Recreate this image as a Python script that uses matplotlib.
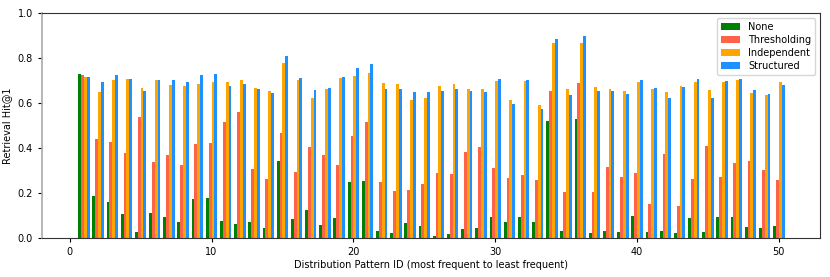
import numpy as np
import matplotlib
matplotlib.use("Agg")
import matplotlib.pyplot as plt

pattern_ids = list(range(1, 51))

hit_none = [0.730, 0.188, 0.161, 0.109, 0.029, 0.114, 0.095, 0.072, 0.176, 0.178,
            0.077, 0.065, 0.072, 0.047, 0.345, 0.087, 0.124, 0.059, 0.089, 0.250,
            0.256, 0.034, 0.025, 0.067, 0.056, 0.010, 0.019, 0.040, 0.046, 0.093,
            0.072, 0.095, 0.071, 0.521, 0.032, 0.529, 0.025, 0.034, 0.027, 0.098,
            0.029, 0.031, 0.022, 0.089, 0.028, 0.096, 0.095, 0.049, 0.046, 0.053]
hit_thresh = [0.724, 0.443, 0.429, 0.379, 0.540, 0.339, 0.372, 0.324, 0.419, 0.422,
              0.517, 0.561, 0.308, 0.264, 0.469, 0.293, 0.407, 0.372, 0.324, 0.455,
              0.517, 0.250, 0.209, 0.216, 0.243, 0.290, 0.286, 0.382, 0.406, 0.314,
              0.269, 0.281, 0.258, 0.653, 0.204, 0.692, 0.204, 0.317, 0.271, 0.290,
              0.151, 0.375, 0.145, 0.264, 0.409, 0.272, 0.335, 0.344, 0.304, 0.258]
hit_indep = [0.718, 0.652, 0.704, 0.709, 0.668, 0.702, 0.680, 0.675, 0.687, 0.693,
             0.693, 0.704, 0.668, 0.653, 0.780, 0.704, 0.624, 0.662, 0.714, 0.721,
             0.733, 0.690, 0.687, 0.616, 0.624, 0.678, 0.687, 0.664, 0.664, 0.699,
             0.613, 0.698, 0.594, 0.868, 0.662, 0.868, 0.671, 0.664, 0.653, 0.696,
             0.665, 0.652, 0.675, 0.696, 0.658, 0.695, 0.704, 0.646, 0.636, 0.693]
hit_struct = [0.716, 0.693, 0.727, 0.709, 0.656, 0.702, 0.702, 0.695, 0.724, 0.732,
              0.677, 0.687, 0.664, 0.647, 0.809, 0.712, 0.659, 0.668, 0.718, 0.757,
              0.775, 0.665, 0.664, 0.649, 0.652, 0.655, 0.664, 0.653, 0.650, 0.708,
              0.598, 0.705, 0.576, 0.887, 0.638, 0.899, 0.653, 0.655, 0.643, 0.704,
              0.666, 0.624, 0.672, 0.709, 0.625, 0.699, 0.709, 0.658, 0.643, 0.682]

series = [("None", hit_none, "green"),
          ("Thresholding", hit_thresh, "tomato"),
          ("Independent", hit_indep, "orange"),
          ("Structured", hit_struct, "dodgerblue")]

fig = plt.figure(figsize=(8.3, 2.77), dpi=100)
ax = fig.add_axes([42 / 830, 1 - 238.3 / 277, (820 - 42) / 830, (238.3 - 13.3) / 277])

x = np.array(pattern_ids)
w = 0.2
for k, (name, vals, col) in enumerate(series):
    ax.bar(x + (k - 1.5) * w, vals, width=w, color=col, label=name)

ax.set_xlim(-1.95, 52.9)
ax.set_ylim(0, 1.0)
ax.set_xticks([0, 10, 20, 30, 40, 50])
ax.set_yticks([0.0, 0.2, 0.4, 0.6, 0.8, 1.0])
ax.tick_params(labelsize=7, length=3, width=0.8)
ax.set_xlabel("Distribution Pattern ID (most frequent to least frequent)", fontsize=7, labelpad=2)
ax.set_ylabel("Retrieval Hit@1", fontsize=7)
ax.spines["left"].set_color("#aaaaaa")
ax.spines["left"].set_linewidth(1.2)
for s in ["top", "right", "bottom"]:
    ax.spines[s].set_color("#333333")

ax.legend(loc="upper right", fontsize=7, handlelength=2.0, borderpad=0.4, labelspacing=0.3)

fig.savefig("out.png", dpi=100)
